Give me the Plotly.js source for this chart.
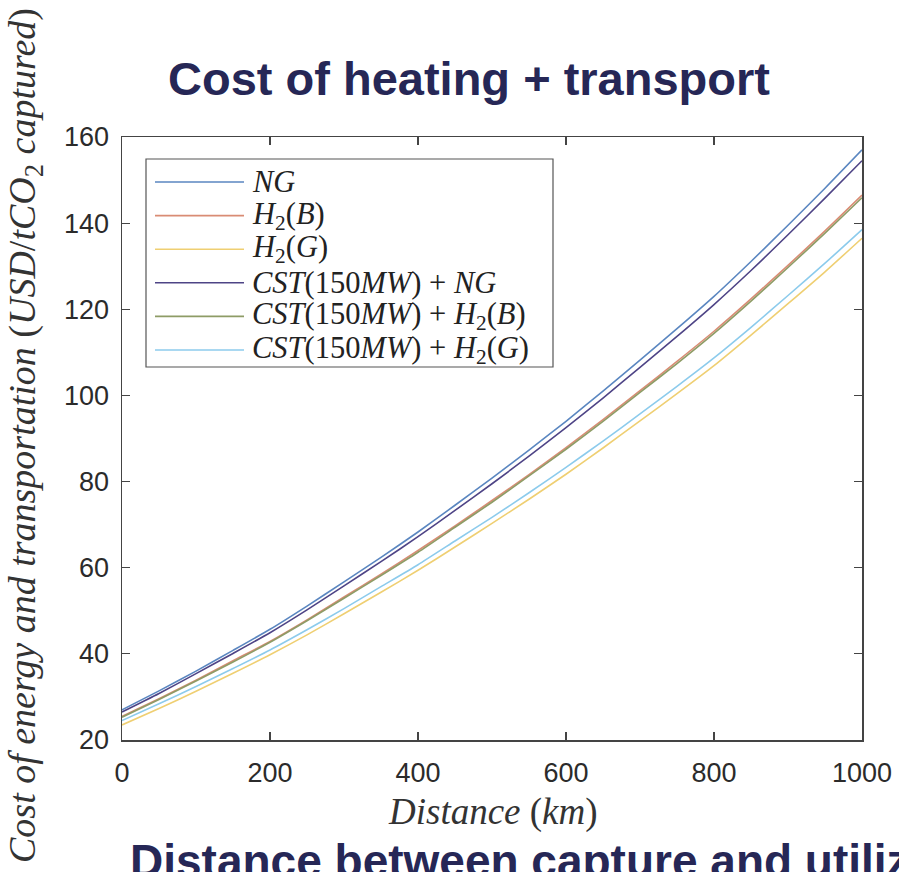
<!DOCTYPE html>
<html>
<head>
<meta charset="utf-8">
<script src="https://cdn.plot.ly/plotly-3.0.1.min.js"></script>
<style>
  html, body { margin: 0; padding: 0; background: #ffffff; overflow: hidden; }
  #chart { width: 899px; height: 872px; }
</style>
</head>
<body>
<div id="chart"></div>
<script>
// Distance from capture site (km)
const distanceKm = [0, 50, 100, 150, 200, 250, 300, 350, 400, 450, 500,
                    550, 600, 650, 700, 750, 800, 850, 900, 950, 1000];

// Cost of energy and transportation (USD/tCO2 captured) per heating option
const costNG      = [27.0, 31.4, 36.0, 40.8, 45.7, 51.1, 56.7, 62.4, 68.3, 74.5, 80.8,
                     87.3, 94.0, 101.0, 108.2, 115.5, 123.0, 131.1, 139.5, 148.1, 157.0];
const costH2B     = [25.5, 29.6, 33.9, 38.4, 42.9, 47.9, 53.2, 58.5, 64.0, 69.7, 75.6,
                     81.6, 87.9, 94.4, 101.1, 107.9, 114.9, 122.4, 130.2, 138.2, 146.5];
const costH2G     = [23.5, 27.3, 31.3, 35.5, 39.8, 44.4, 49.3, 54.3, 59.4, 64.8, 70.3,
                     75.9, 81.7, 87.8, 94.1, 100.4, 106.9, 114.0, 121.3, 128.7, 136.5];
const costCstNG   = [26.5, 30.8, 35.4, 40.1, 44.9, 50.2, 55.8, 61.4, 67.2, 73.3, 79.5,
                     85.9, 92.5, 99.4, 106.5, 113.7, 121.1, 129.0, 137.3, 145.8, 154.5];
const costCstH2B  = [25.3, 29.4, 33.7, 38.1, 42.7, 47.7, 52.9, 58.2, 63.6, 69.4, 75.2,
                     81.3, 87.5, 94.0, 100.7, 107.4, 114.4, 121.9, 129.7, 137.7, 145.9];
const costCstH2G  = [24.5, 28.4, 32.4, 36.6, 40.9, 45.6, 50.5, 55.6, 60.7, 66.2, 71.7,
                     77.4, 83.3, 89.4, 95.7, 102.1, 108.7, 115.8, 123.2, 130.7, 138.5];

const seriesNames = [
  '<i>NG</i>',
  '<i>H</i><sub>2</sub>(<i>B</i>)',
  '<i>H</i><sub>2</sub>(<i>G</i>)',
  '<i>CST</i>(150<i>MW</i>) + <i>NG</i>',
  '<i>CST</i>(150<i>MW</i>) + <i>H</i><sub>2</sub>(<i>B</i>)',
  '<i>CST</i>(150<i>MW</i>) + <i>H</i><sub>2</sub>(<i>G</i>)'
];
const seriesValues = [costNG, costH2B, costH2G, costCstNG, costCstH2B, costCstH2G];
const seriesColors = ['#5a86c0', '#d98c74', '#efcf72', '#4e4486', '#8e9c66', '#8ccbec'];

const xTicks = [0, 200, 400, 600, 800, 1000];
const yTicks = [20, 40, 60, 80, 100, 120, 140, 160];

// Plot area in page pixels, used to place the legend box and labels
const W = 899, H = 872;
const plotL = 122, plotR = 862, plotT = 137, plotB = 740;
const px = v => (v - plotL) / (plotR - plotL);
const py = v => (plotB - v) / (plotB - plotT);

const traces = seriesValues.map((vals, i) => ({
  type: 'scatter',
  mode: 'lines',
  x: distanceKm,
  y: vals,
  name: seriesNames[i],
  showlegend: false,
  line: { color: seriesColors[i], width: 1.6, shape: 'spline', smoothing: 0.6 }
}));

const serif = 'Liberation Serif, Times New Roman, serif';
const sans = 'Liberation Sans, Arial, Helvetica, sans-serif';
const tickColor = '#2b2b2b';

// Boxed legend in the upper-left corner of the axes
const legendBox = { x0: 146, x1: 553, y0: 159, y1: 367 };
const legendRow0 = 182, legendRowGap = 33.6;
const legendShapes = [{
  type: 'rect', xref: 'paper', yref: 'paper',
  x0: px(legendBox.x0), x1: px(legendBox.x1),
  y0: py(legendBox.y1), y1: py(legendBox.y0),
  line: { color: '#555', width: 1.2 }, fillcolor: '#ffffff', layer: 'above'
}];
const legendLabels = [];
seriesNames.forEach((name, i) => {
  const rowY = legendRow0 + i * legendRowGap;
  legendShapes.push({
    type: 'line', xref: 'paper', yref: 'paper',
    x0: px(155), x1: px(244), y0: py(rowY), y1: py(rowY),
    line: { color: seriesColors[i], width: 1.6 }, layer: 'above'
  });
  legendLabels.push({
    text: name, xref: 'paper', yref: 'paper',
    x: px(250), y: py(rowY), xanchor: 'left', yanchor: 'middle',
    showarrow: false,
    font: { family: serif, size: 30.5, color: '#222' }
  });
});

const layout = {
  width: W,
  height: H,
  margin: { l: plotL, r: W - plotR, t: plotT, b: H - plotB },
  paper_bgcolor: '#ffffff',
  plot_bgcolor: '#ffffff',
  showlegend: false,
  title: {
    text: '<b>Cost of heating + transport</b>',
    font: { family: sans, size: 47, color: '#262756' },
    xref: 'container', x: 469 / W, xanchor: 'center',
    yref: 'container', y: 1 - 79 / H, yanchor: 'middle'
  },
  xaxis: {
    range: [0, 1000],
    tickvals: xTicks,
    ticks: 'inside', ticklen: 8, tickwidth: 1.2, tickcolor: '#444',
    showline: true, linecolor: '#444', linewidth: 1.5, mirror: 'ticks',
    showgrid: false, zeroline: false,
    ticklabelstandoff: 8,
    tickfont: { family: sans, size: 27, color: tickColor }
  },
  yaxis: {
    range: [20, 160],
    tickvals: yTicks,
    ticks: 'inside', ticklen: 8, tickwidth: 1.2, tickcolor: '#444',
    showline: true, linecolor: '#444', linewidth: 1.5, mirror: 'ticks',
    showgrid: false, zeroline: false,
    ticklabelstandoff: 6,
    tickfont: { family: sans, size: 27, color: tickColor }
  },
  shapes: legendShapes,
  annotations: legendLabels.concat([
    {
      text: '<i>Cost of energy and transportation</i> (<i>USD</i>/<i>tCO</i><sub>2</sub> <i>captured</i>)',
      xref: 'paper', yref: 'paper',
      x: px(25), y: py(436),
      xanchor: 'center', yanchor: 'middle',
      textangle: -90, showarrow: false,
      font: { family: serif, size: 38, color: '#333' }
    },
    {
      text: '<i>Distance</i> (<i>km</i>)',
      xref: 'paper', yref: 'paper',
      x: px(493), y: py(812),
      xanchor: 'center', yanchor: 'middle',
      showarrow: false,
      font: { family: serif, size: 37, color: '#333' }
    },
    {
      text: '<b>Distance between capture and utilization site</b>',
      xref: 'paper', yref: 'paper',
      x: px(128), y: py(833),
      xanchor: 'left', yanchor: 'top',
      showarrow: false,
      font: { family: sans, size: 46, color: '#262756' }
    }
  ])
};

Plotly.newPlot('chart', traces, layout, { displayModeBar: false, staticPlot: true });
</script>
</body>
</html>
